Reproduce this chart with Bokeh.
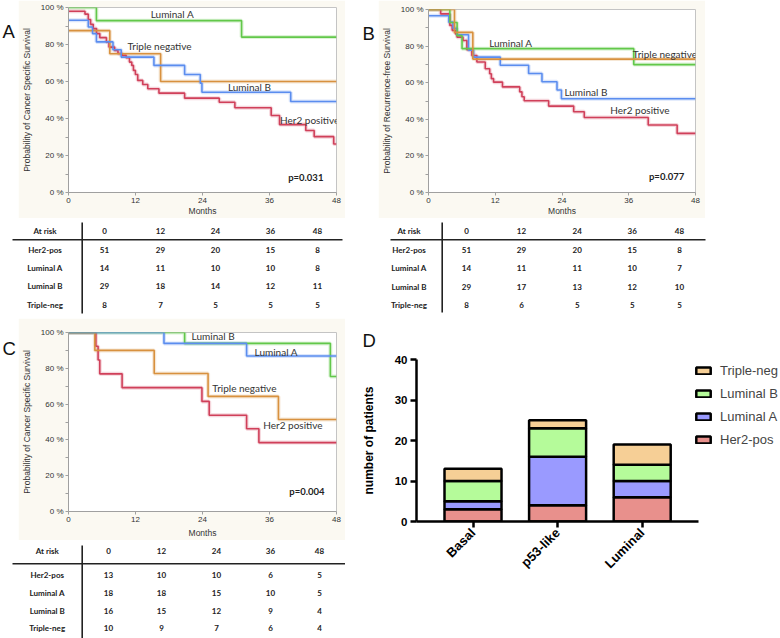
import math
from bokeh.plotting import figure
from bokeh.layouts import row, column
from bokeh.models import (Range1d, FixedTicker, Legend, LegendItem, ColumnDataSource)
from bokeh.core.properties import value
from bokeh.embed import file_html
from bokeh.resources import INLINE

# ---------------- data ----------------
month_ticks = [0, 12, 24, 36, 48]
pct_ticks = [0, 20, 40, 60, 80, 100]
pct_minor = [10, 30, 50, 70, 90]

# Panel A - cancer specific survival (step times in months, survival in %)
a_her2_t = [0, 2.95, 3.54, 3.96, 4.43, 5.02, 5.61, 6.79, 7.26, 8.26, 8.86, 9.62, 10.33,
            10.92, 11.33, 11.63, 11.98, 12.4, 13.3, 14.2, 16.2, 20.8, 27.0, 29.8, 36.3,
            37.8, 42.5, 44.0, 47.5, 48]
a_her2_s = [98.0, 96.4, 93.5, 90.9, 88.6, 85.9, 83.7, 81.3, 78.6, 76.8, 75.1, 74.1, 72.9,
            70.5, 68.7, 66.0, 63.8, 60.6, 58.4, 56.1, 53.7, 51.0, 48.8, 45.8, 41.6,
            36.7, 33.5, 30.2, 26.2, 26.2]
a_luma_t = [0, 5.0, 31.0, 48]
a_luma_s = [100, 92.9, 84.0, 84.0]
a_lumb_t = [0, 3.54, 4.31, 5.0, 7.97, 9.44, 15.3, 20.8, 23.6, 23.9, 39.8, 48]
a_lumb_s = [93.1, 89.5, 85.9, 81.4, 77.2, 73.2, 68.7, 63.8, 59.1, 54.2, 49.2, 49.2]
a_tn_t = [0, 7.4, 16.5, 48]
a_tn_s = [87.5, 75.0, 60.0, 60.0]

# Panel B - recurrence-free survival
b_her2_t = [0, 2.19, 3.84, 4.26, 4.85, 5.14, 6.2, 6.9, 7.8, 8.7, 10.2, 11.0, 11.3, 11.7,
            13.3, 16.4, 16.8, 17.2, 21.6, 26.1, 28.0, 39.5, 44.7, 48]
b_her2_s = [100, 97.6, 91.3, 88.6, 86.7, 84.9, 83.1, 78.0, 74.9, 71.3, 67.6, 64.9, 62.2, 60.3,
            57.7, 55.0, 52.3, 50.1, 47.2, 44.1, 41.0, 36.9, 32.3, 32.3]
b_luma_t = [0, 3.84, 5.14, 6.03, 36.9, 48]
b_luma_s = [100, 92.9, 85.7, 78.6, 69.9, 69.9]
b_lumb_t = [0, 3.66, 4.4, 5.1, 7.2, 8.1, 12.9, 18.0, 20.4, 23.1, 23.9, 48]
b_lumb_s = [96.6, 93.1, 89.7, 86.2, 77.7, 74.0, 69.5, 65.0, 60.5, 56.0, 51.2, 51.2]
b_tn_t = [0, 4.67, 7.97, 48]
b_tn_s = [100, 87.5, 72.9, 72.9]

# Panel C - cancer specific survival (second cohort)
c_her2_t = [0, 4.9, 5.3, 5.6, 9.6, 23.9, 25.2, 31.9, 34.1, 48]
c_her2_s = [100, 92.3, 84.6, 76.9, 69.2, 61.5, 53.8, 46.2, 38.5, 38.5]
c_green_t = [0, 20.8, 46.9, 48]
c_green_s = [100, 93.9, 75.4, 75.4]
c_blue_t = [0, 17.1, 31.9, 48]
c_blue_s = [100, 93.9, 86.9, 86.9]
c_tn_t = [0, 4.72, 15.35, 25.0, 37.6, 48]
c_tn_s = [100, 90.0, 77.1, 64.3, 51.4, 51.4]

# At-risk tables
risk_times = ["0", "12", "24", "36", "48"]
risk_groups = ["Her2-pos", "Luminal A", "Luminal B", "Triple-neg"]
tab_a_her2 = [51, 29, 20, 15, 8]
tab_a_luma = [14, 11, 10, 10, 8]
tab_a_lumb = [29, 18, 14, 12, 11]
tab_a_tn = [8, 7, 5, 5, 5]
tab_b_her2 = [51, 29, 20, 15, 8]
tab_b_luma = [14, 11, 11, 10, 7]
tab_b_lumb = [29, 17, 13, 12, 10]
tab_b_tn = [8, 6, 5, 5, 5]
tab_c_her2 = [13, 10, 10, 6, 5]
tab_c_luma = [18, 18, 15, 10, 5]
tab_c_lumb = [16, 15, 12, 9, 4]
tab_c_tn = [10, 9, 7, 6, 4]

# Panel D - stacked bars
d_cats = ["Basal", "p53-like", "Luminal"]
d_pos = [1, 2, 3]
d_her2 = [3, 4, 6]
d_luma = [2, 12, 4]
d_lumb = [5, 7, 4]
d_tn = [3, 2, 5]

# ---------------- styles ----------------
CREAM = "#fbf9f2"
RED = "#d0405a"
BLUE = "#5b8def"
GREEN = "#62c84a"
ORANGE = "#d8913f"
SANS = "Liberation Sans"
CAL = "Lato"


def blank(width, height, x0, y0, bg="white"):
    p = figure(width=width, height=height, x_range=Range1d(x0, x0 + width),
               y_range=Range1d(y0 + height, y0), output_backend="svg",
               toolbar_location=None, title=None, min_border=0,
               x_axis_location=None, y_axis_location=None)
    p.outline_line_color = None
    p.grid.visible = False
    p.border_fill_color = bg
    p.background_fill_color = bg
    return p


def add_letter(p, letter, lx, ly):
    p.text(x=[lx], y=[ly], text=[letter], text_font=value(SANS), text_font_size="18.5px",
           text_baseline="alphabetic", text_align="left", text_color="#111111")


def letter_panel(width, height, x0, y0, letter, lx, ly):
    p = blank(width, height, x0, y0)
    add_letter(p, letter, lx, ly)
    return p


def km_panel(width, height, borders, ylabel, xl_standoff, curves, labels, pval, pval_xy):
    bl, br, bt, bb = borders
    p = figure(width=width, height=height, x_range=Range1d(0, 48), y_range=Range1d(0, 100),
               output_backend="svg", toolbar_location=None, title=None,
               min_border_left=bl, min_border_right=br, min_border_top=bt,
               min_border_bottom=bb)
    p.border_fill_color = CREAM
    p.background_fill_color = "white"
    p.outline_line_color = "#c4c4c4"
    p.grid.visible = False
    p.xaxis.ticker = FixedTicker(ticks=month_ticks)
    p.yaxis.ticker = FixedTicker(ticks=pct_ticks, minor_ticks=pct_minor)
    p.yaxis.major_label_overrides = {v: f"{v} %" for v in pct_ticks}
    for ax in (p.xaxis[0], p.yaxis[0]):
        ax.axis_line_color = "#a0a0a0"
        ax.major_tick_line_color = "#a0a0a0"
        ax.minor_tick_line_color = "#a0a0a0"
        ax.major_tick_out = 3
        ax.major_tick_in = 0
        ax.minor_tick_out = 3
        ax.minor_tick_in = 0
        ax.major_label_text_font = SANS
        ax.major_label_text_font_size = "8px"
        ax.major_label_text_color = "#333333"
        ax.major_label_standoff = 2
        ax.axis_label_text_font = SANS
        ax.axis_label_text_font_size = "8.5px"
        ax.axis_label_text_font_style = "normal"
        ax.axis_label_text_color = "#333333"
    p.xaxis.axis_label = "Months"
    p.xaxis.axis_label_standoff = xl_standoff
    p.yaxis.axis_label = ylabel
    p.yaxis.axis_label_standoff = 6
    for t, s, c in curves:
        p.step(t, s, mode="after", line_color=c, line_width=4, line_alpha=0.22)
    for t, s, c in curves:
        p.step(t, s, mode="after", line_color=c, line_width=1.6)
    lx, ly, lt = labels
    p.text(x=lx, y=ly, text=lt, text_font=value(CAL), text_font_size="10px",
           text_align="center", text_baseline="middle", text_color="#333333")
    p.text(x=[pval_xy[0]], y=[pval_xy[1]], text=[pval], text_font=value(CAL),
           text_font_size="9.5px", text_font_style="bold", text_align="center",
           text_baseline="middle", text_color="#222222")
    return p


def table_panel(width, height, x0, y0, header_y, row_ys, label_x, col_xs, hline, vline,
                rows):
    p = blank(width, height, x0, y0)
    p.segment(x0=[hline[0], vline[0]], y0=[hline[2], vline[1]],
              x1=[hline[1], vline[0]], y1=[hline[2], vline[2]],
              line_color="#222222", line_width=1.6)
    tx, ty, tt = [label_x], [header_y], ["At risk"]
    for cx, lab in zip(col_xs, risk_times):
        tx.append(cx); ty.append(header_y); tt.append(lab)
    for ry, grp, vals in zip(row_ys, risk_groups, rows):
        tx.append(label_x); ty.append(ry); tt.append(grp)
        for cx, v in zip(col_xs, vals):
            tx.append(cx); ty.append(ry); tt.append(str(v))
    p.text(x=tx, y=ty, text=tt, text_font=value(CAL), text_font_size="8px",
           text_font_style="bold", text_align="center", text_baseline="middle",
           text_color="#222222")
    return p


# ---------------- panels ----------------
labA = letter_panel(18, 218, 0, 0, "A", 2, 28)
figA = km_panel(327, 218, (47, 9, 7, 26), "Probability of Cancer Specific Survival", 0,
                [(a_her2_t, a_her2_s, RED), (a_tn_t, a_tn_s, ORANGE),
                 (a_lumb_t, a_lumb_s, BLUE), (a_luma_t, a_luma_s, GREEN)],
                ([18.6, 16.3, 32.4, 43.2], [96.4, 79.0, 56.8, 39.4],
                 ["Luminal A", "Triple negative", "Luminal B", "Her2 positive"]),
                "p=0.031", (42.5, 8.0))
labB = letter_panel(33, 218, 345, 0, "B", 362, 28)
figB = km_panel(327, 218, (46, 10, 9, 25), "Probability of Recurrence-free Survival", 0,
                [(b_her2_t, b_her2_s, RED), (b_lumb_t, b_lumb_s, BLUE),
                 (b_luma_t, b_luma_s, GREEN), (b_tn_t, b_tn_s, ORANGE)],
                ([14.8, 42.5, 28.3, 38.0], [81.9, 75.9, 54.8, 44.9],
                 ["Luminal A", "Triple negative", "Luminal B", "Her2 positive"]),
                "p=0.077", (42.8, 8.7))

tabA = table_panel(345, 100, 0, 218, 230.6, [249.2, 267.4, 285.8, 304.1], 44.5,
                   [104, 160, 215, 270, 317], (12, 342, 239.2), (81.7, 222, 313),
                   [tab_a_her2, tab_a_luma, tab_a_lumb, tab_a_tn])
# table B panel also carries the "D" panel letter below it
tabB = table_panel(435, 133, 345, 218, 230.7, [249.3, 267.6, 286.0, 304.1], 408.5,
                   [466, 521, 576.7, 631.7, 679], (390, 705, 239.3), (441.7, 222, 312),
                   [tab_b_her2, tab_b_luma, tab_b_lumb, tab_b_tn])
add_letter(tabB, "D", 362, 340)

labC = letter_panel(18, 222, 0, 318, "C", 2, 338)
figC = km_panel(327, 222, (47, 9, 14, 28), "Probability of Cancer Specific Survival", 3,
                [(c_her2_t, c_her2_s, RED), (c_tn_t, c_tn_s, ORANGE),
                 (c_green_t, c_green_s, GREEN), (c_blue_t, c_blue_s, BLUE)],
                ([25.9, 37.2, 31.5, 40.2], [98.1, 89.2, 69.2, 48.5],
                 ["Luminal B", "Luminal A", "Triple negative", "Her2 positive"]),
                "p=0.004", (42.7, 10.9))
tabC = table_panel(345, 98, 0, 540, 550.7, [574.0, 592.3, 610.0, 627.7], 46.7,
                   [108, 161, 216, 270, 319], (12, 345, 563.3), (81.7, 545, 638),
                   [tab_c_her2, tab_c_luma, tab_c_lumb, tab_c_tn])

D_X0 = 0.332      # left edge of bar-chart frame (category index units)
D_AX_END = 3.665  # end of the drawn x axis
D_X1 = 4.635      # right edge of frame (room for legend)
figD = figure(width=435, height=287, x_range=Range1d(D_X0, D_X1), y_range=Range1d(0, 40),
              output_backend="svg", toolbar_location=None, title=None,
              min_border_left=71, min_border_right=0, min_border_top=8,
              min_border_bottom=117)
figD.outline_line_color = None
figD.grid.visible = False
srcD = ColumnDataSource(dict(x=d_pos, her2=d_her2, luma=d_luma, lumb=d_lumb, tn=d_tn))
rs = figD.vbar_stack(["her2", "luma", "lumb", "tn"], x="x", width=0.674, source=srcD,
                     fill_color=["#e8908c", "#9a9aff", "#b5fb9a", "#f6cf96"],
                     line_color="black", line_width=2.5)
figD.yaxis.ticker = FixedTicker(ticks=[0, 10, 20, 30, 40])
figD.xaxis.ticker = FixedTicker(ticks=d_pos)
figD.xaxis.major_label_overrides = {p: c for p, c in zip(d_pos, d_cats)}
figD.xaxis.bounds = (D_X0, D_AX_END)
figD.xaxis.major_label_orientation = math.pi / 4
for ax in (figD.xaxis[0], figD.yaxis[0]):
    ax.axis_line_width = 2.5
    ax.axis_line_color = "black"
    ax.major_tick_line_width = 2.5
    ax.major_tick_line_color = "black"
    ax.major_tick_out = 6
    ax.major_tick_in = 0
    ax.minor_tick_line_color = None
    ax.major_label_text_font = SANS
    ax.major_label_text_font_style = "bold"
    ax.major_label_text_color = "black"
    ax.major_label_standoff = 3
figD.yaxis.major_label_text_font_size = "11.5px"
figD.xaxis.major_label_text_font_size = "13px"
figD.yaxis.axis_label = "number of patients"
figD.yaxis.axis_label_text_font = SANS
figD.yaxis.axis_label_text_font_style = "bold"
figD.yaxis.axis_label_text_font_size = "12px"
figD.yaxis.axis_label_text_color = "black"
figD.yaxis.axis_label_standoff = 16
legD = Legend(items=[LegendItem(label="Triple-neg", renderers=[rs[3]]),
                     LegendItem(label="Luminal B", renderers=[rs[2]]),
                     LegendItem(label="Luminal A", renderers=[rs[1]]),
                     LegendItem(label="Her2-pos", renderers=[rs[0]])],
              location=(278, 74), padding=0, margin=0, spacing=8, glyph_width=18,
              glyph_height=9, label_height=9, label_standoff=8,
              label_text_font=SANS, label_text_font_size="13px",
              border_line_color=None, background_fill_alpha=0)
figD.add_layout(legD)

# wrap plots in rows so that the column does not align their frames
left = column(row(labA, figA), row(tabA), row(labC, figC), row(tabC))
right = column(row(labB, figB), row(tabB), row(figD))
layout = row(left, right)

with open("out.html", "w") as f:
    f.write(file_html(layout, INLINE))
